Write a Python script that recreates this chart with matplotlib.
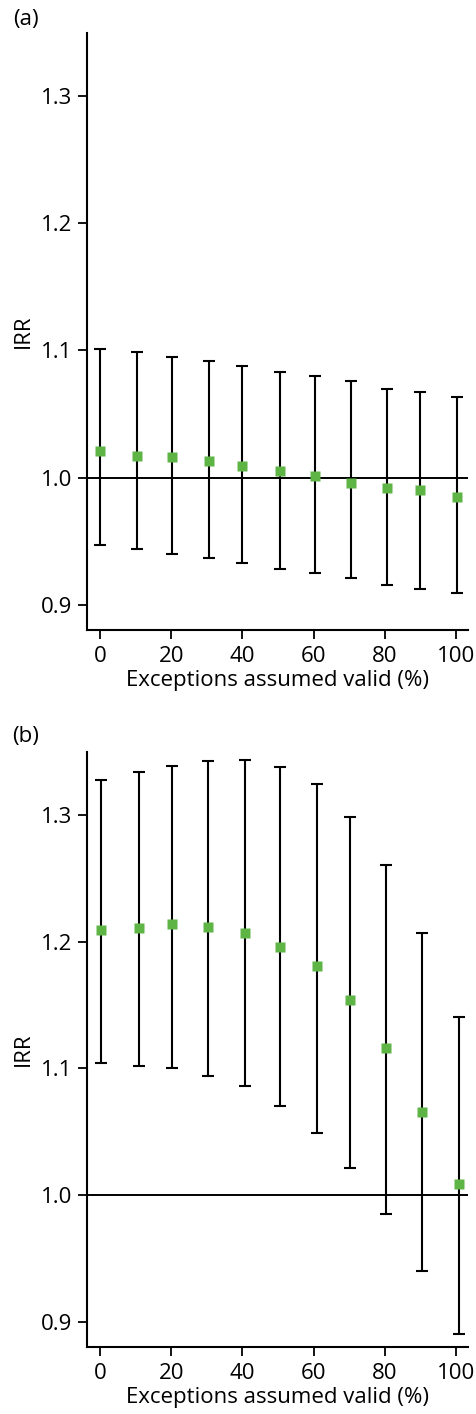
import numpy as np
import matplotlib.pyplot as plt

plt.rcParams['font.family'] = ['Open Sans', 'DejaVu Sans']

# exceptions assumed valid (%)
x_a = [0, 10.5, 20.3, 30.7, 40, 50.5, 60.5, 70.5, 80.6, 90, 100.2]
x_b = [0.4, 11, 20.3, 30.4, 40.7, 50.6, 60.9, 70.2, 80.3, 90.4, 100.9]

# panel (a) IRR with 95% CI
irr_a = [1.021, 1.017, 1.016, 1.013, 1.009, 1.005, 1.001, 0.996, 0.992, 0.990, 0.985]
lo_a = [0.947, 0.944, 0.940, 0.937, 0.933, 0.928, 0.925, 0.921, 0.915, 0.912, 0.909]
hi_a = [1.101, 1.099, 1.095, 1.092, 1.088, 1.083, 1.080, 1.076, 1.070, 1.067, 1.063]

# panel (b)
irr_b = [1.209, 1.211, 1.214, 1.212, 1.207, 1.196, 1.181, 1.154, 1.116, 1.066, 1.009]
lo_b = [1.104, 1.102, 1.100, 1.094, 1.086, 1.070, 1.049, 1.021, 0.985, 0.940, 0.890]
hi_b = [1.328, 1.334, 1.339, 1.343, 1.344, 1.338, 1.325, 1.299, 1.261, 1.207, 1.141]

xticks = [0, 20, 40, 60, 80, 100]
yticks = [0.9, 1.0, 1.1, 1.2, 1.3]

green = '#5fb446'
fs = 16

fig = plt.figure(figsize=(4.77, 14.14), dpi=100)
ax_a = fig.add_axes([0.1824, 0.5545, 0.7986, 0.4222])
ax_b = fig.add_axes([0.1824, 0.0474, 0.7986, 0.4208])


def panel(ax, x, irr, lo, hi):
    irr = np.array(irr)
    err = [irr - np.array(lo), np.array(hi) - irr]
    ax.axhline(1.0, color='black', lw=1.4, zorder=1)
    ax.errorbar(x, irr, yerr=err, fmt='none', ecolor='black', elinewidth=1.5,
                capsize=4, capthick=1.5, zorder=2)
    ax.plot(x, irr, 's', color=green, markersize=7.5, mec='none', zorder=3)
    ax.set_xlim(-3.65, 103.4)
    ax.set_ylim(0.88, 1.35)
    ax.set_xticks(xticks)
    ax.set_yticks(yticks)
    ax.set_yticklabels(['%.1f' % v for v in yticks])
    ax.spines['top'].set_visible(False)
    ax.spines['right'].set_visible(False)
    ax.spines['left'].set_linewidth(1.5)
    ax.spines['bottom'].set_linewidth(1.5)
    ax.tick_params(direction='out', length=6.5, width=1.3, labelsize=fs)
    ax.tick_params(axis='x', pad=5)
    ax.tick_params(axis='y', pad=4)
    ax.set_xlabel('Exceptions assumed valid (%)', fontsize=fs, labelpad=2)
    ax.set_ylabel('IRR', fontsize=fs, labelpad=5)


panel(ax_a, x_a, irr_a, lo_a, hi_a)
panel(ax_b, x_b, irr_b, lo_b, hi_b)

fig.text(0.027, 1 - 20 / 1414, '(a)', fontsize=fs, va='center', ha='left')
fig.text(0.025, 1 - 737 / 1414, '(b)', fontsize=fs, va='center', ha='left')

fig.savefig('out.png', dpi=100)
